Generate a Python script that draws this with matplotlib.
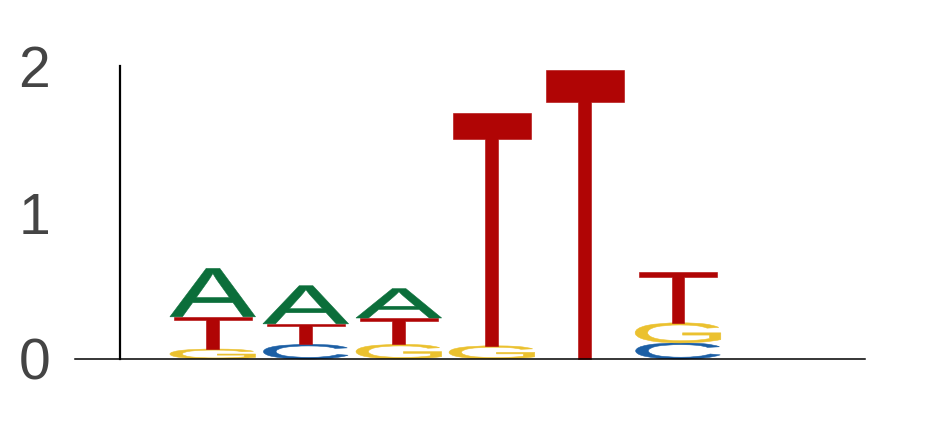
import matplotlib
matplotlib.use("Agg")
import matplotlib.pyplot as plt
from matplotlib.textpath import TextPath
from matplotlib.patches import PathPatch
from matplotlib.font_manager import FontProperties
from matplotlib.transforms import Affine2D

# information content (bits) per letter at each position 1..8
positions = [1, 2, 3, 4, 5, 6, 7, 8]
height_A = [0.33, 0.26, 0.20, 0.0, 0.0, 0.0, 0.0, 0.0]
height_C = [0.0, 0.10, 0.0, 0.0, 0.0, 0.11, 0.0, 0.0]
height_G = [0.068, 0.0, 0.10, 0.09, 0.0, 0.137, 0.0, 0.0]
height_T = [0.22, 0.14, 0.18, 1.59, 1.97, 0.35, 0.0, 0.0]

ytick_vals = [0, 1, 2]
ytick_labels = ["0", "1", "2"]

colors = {"A": "#0b6e3a", "C": "#1c5fa5", "G": "#ebc12f", "T": "#b00505"}
widths = {"A": 0.92, "C": 0.91, "G": 0.92, "T": 0.84}

fp = FontProperties(family="Liberation Sans", weight="normal")


def draw_letter(ax, letter, xc, y0, h):
    tp = TextPath((0, 0), letter, size=1, prop=fp)
    bb = tp.get_extents()
    w = widths[letter]
    tr = (Affine2D().translate(-bb.x0, -bb.y0)
          .scale(w / bb.width, h / bb.height)
          .translate(xc - w / 2, y0))
    ax.add_patch(PathPatch(tr.transform_path(tp), facecolor=colors[letter],
                           edgecolor=colors[letter], linewidth=0.4, clip_on=False))


W, H = 931, 429
fig = plt.figure(figsize=(W / 100, H / 100), dpi=100)
# x=-0.48 at 75px, x=8.01 at 865px; y=0 at 359px, y=2 at 66px (from top)
ax = fig.add_axes([75 / W, (H - 359) / H, 790 / W, 293 / H])
ax.set_xlim(-0.48, 8.01)
ax.set_ylim(0, 2)

for i, x in enumerate(positions):
    stack = [("A", height_A[i]), ("C", height_C[i]), ("G", height_G[i]), ("T", height_T[i])]
    stack = sorted([s for s in stack if s[1] > 0], key=lambda s: s[1])
    y = 0.0
    for letter, h in stack:
        draw_letter(ax, letter, x, y, h)
        y += h

for s in ["top", "right"]:
    ax.spines[s].set_visible(False)
ax.spines["left"].set_position(("data", 0))
ax.spines["left"].set_linewidth(1.6)
ax.spines["bottom"].set_linewidth(1.1)
ax.set_xticks([])
ax.set_yticks(ytick_vals)
ax.set_yticklabels(ytick_labels, fontsize=41, color="#444444", family="Liberation Sans")
ax.tick_params(axis="y", length=0, pad=50)

fig.savefig("out.png", dpi=100)
